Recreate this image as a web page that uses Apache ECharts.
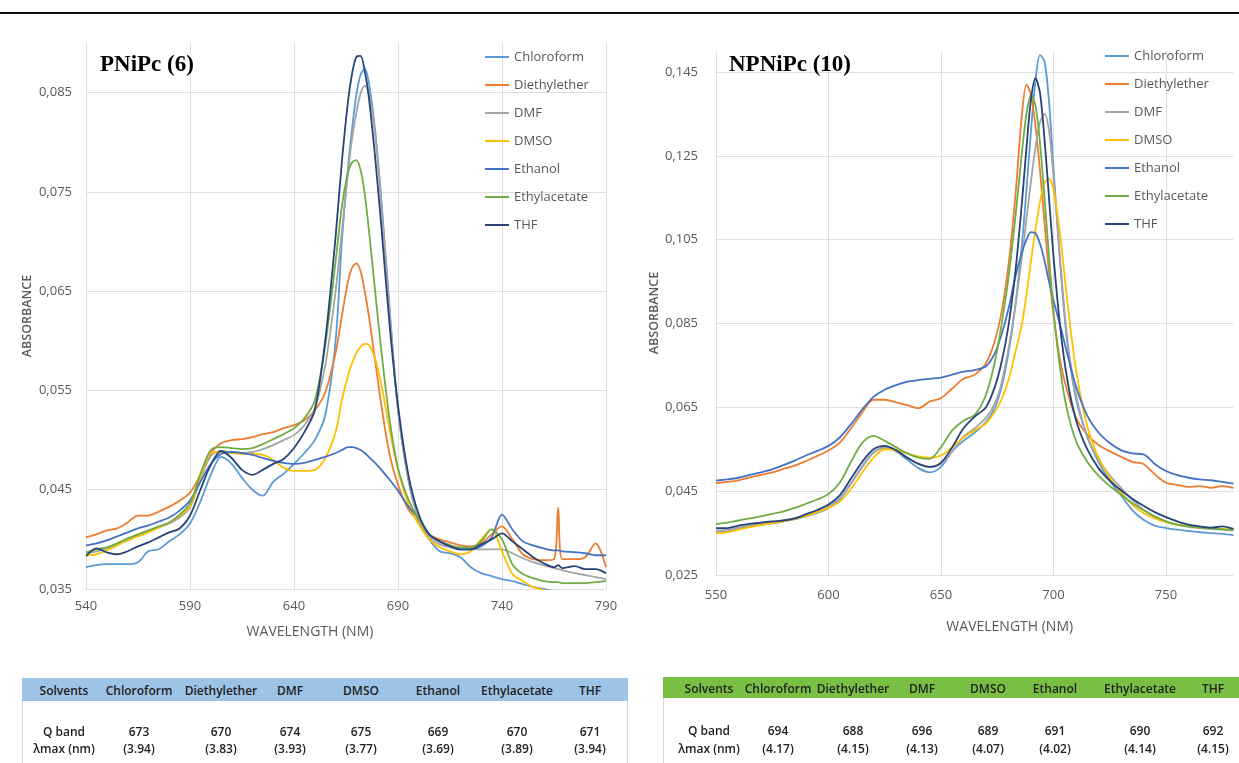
<!DOCTYPE html>
<html><head><meta charset="utf-8">
<script src="https://cdn.jsdelivr.net/npm/echarts@6/dist/echarts.min.js"></script>
<style>
html,body{margin:0;padding:0;background:#fff;}
#wrap{position:relative;width:1239px;height:763px;overflow:hidden;background:#fff;}
#chart{position:absolute;left:0;top:0;width:1239px;height:763px;}
#topline{position:absolute;left:0;top:12px;width:1239px;height:2px;background:#111;}
.band{position:absolute;}
.box{position:absolute;border:1px solid #d6d6d6;border-top:none;}
.cell{position:absolute;transform:translate(-50%,-50%);white-space:nowrap;font-family:'Open Sans',sans-serif;font-size:12px;font-weight:600;color:#222;}
</style></head>
<body>
<div id="wrap">
  <div id="chart"></div>
  <div id="topline"></div>
  <div id="tables"></div>
</div>
<script>
// ---------------- DATA ----------------
const SERIES_NAMES = ['Chloroform','Diethylether','DMF','DMSO','Ethanol','Ethylacetate','THF'];

// Left chart: PNiPc (6)
const L_WL = [540,545,550,555,560,565,570,575,580,585,590,595,600,605,610,615,620,625,630,635,640,645,650,655,660,
  663,666,668,670,672,674,676,679,682,686,690,
  695,700,705,710,715,720,725,730,735,740,745,750,755,760,765,767,769,775,780,785,790];
const L_CHLOROFORM = [.0372,.0374,.0375,.0375,.0375,.0377,.0388,.0390,.0398,.0405,.0416,.0438,.0465,.0483,.0476,.0462,.0450,.0444,.0458,.0466,.0476,.0487,.0500,.0525,.0600,
  .0700,.0775,.0815,.0848,.0868,.0874,.0860,.0812,.0742,.0632,.0530,
  .0460,.0420,.0400,.0388,.0386,.0382,.0372,.0366,.0363,.0360,.0358,.0355,.0352,.0350,.0348,.0347,.0347,.0345,.0344,.0343,.0342];
const L_DIETHYLETHER = [.0402,.0405,.0409,.0411,.0417,.0424,.0424,.0428,.0433,.0439,.0447,.0465,.0487,.0497,.0500,.0501,.0503,.0506,.0508,.0512,.0515,.0520,.0530,.0548,.0588,
  .0625,.0660,.0674,.0678,.0670,.0650,.0625,.0580,.0535,.0485,.0455,
  .0430,.0418,.0405,.0400,.0397,.0394,.0393,.0396,.0405,.0413,.0400,.0385,.0380,.0379,.0380,.0432,.0380,.0380,.0382,.0396,.0372];
const L_DMF = [.0386,.0388,.0391,.0395,.0399,.0404,.0408,.0412,.0416,.0422,.0432,.0460,.0484,.0489,.0488,.0487,.0488,.0491,.0495,.0500,.0505,.0515,.0532,.0575,.0650,
  .0710,.0770,.0805,.0830,.0849,.0857,.0850,.0808,.0738,.0628,.0530,
  .0460,.0420,.0402,.0395,.0392,.0390,.0390,.0390,.0390,.0390,.0386,.0381,.0377,.0374,.0371,.0370,.0369,.0366,.0364,.0362,.0360];
const L_DMSO = [.0384,.0385,.0389,.0394,.0399,.0403,.0407,.0412,.0417,.0424,.0433,.0462,.0487,.0488,.0487,.0486,.0486,.0485,.0480,.0472,.0469,.0469,.0470,.0482,.0508,
  .0540,.0565,.0578,.0588,.0594,.0597,.0596,.0582,.0556,.0510,.0470,
  .0435,.0415,.0400,.0392,.0388,.0385,.0388,.0400,.0410,.0388,.0365,.0358,.0352,.0349,.0347,.0346,.0346,.0345,.0345,.0346,.0347];
const L_ETHANOL = [.0394,.0396,.0399,.0403,.0407,.0411,.0414,.0418,.0422,.0429,.0439,.0458,.0476,.0486,.0488,.0487,.0485,.0482,.0479,.0477,.0476,.0477,.0480,.0483,.0487,
  .0490,.0493,.0493,.0492,.0490,.0487,.0483,.0477,.0470,.0460,.0449,
  .0433,.0421,.0405,.0398,.0394,.0390,.0390,.0393,.0402,.0425,.0410,.0398,.0394,.0391,.0389,.0389,.0388,.0387,.0386,.0384,.0384];
const L_ETHYLACETATE = [.0387,.0390,.0392,.0396,.0401,.0405,.0409,.0413,.0417,.0425,.0436,.0466,.0490,.0493,.0492,.0491,.0492,.0496,.0501,.0506,.0512,.0522,.0540,.0595,.0680,
  .0735,.0770,.0780,.0782,.0772,.0748,.0712,.0650,.0590,.0520,.0472,
  .0440,.0420,.0405,.0398,.0394,.0392,.0392,.0398,.0410,.0400,.0375,.0365,.0361,.0358,.0357,.0357,.0356,.0356,.0356,.0357,.0358];
const L_THF = [.0383,.0391,.0387,.0385,.0388,.0393,.0397,.0402,.0407,.0411,.0424,.0450,.0475,.0489,.0482,.0470,.0465,.0470,.0476,.0481,.0492,.0508,.0530,.0600,.0705,
  .0780,.0842,.0870,.0886,.0887,.0872,.0845,.0785,.0715,.0615,.0535,
  .0465,.0425,.0405,.0398,.0393,.0390,.0390,.0395,.0400,.0406,.0398,.0390,.0382,.0376,.0372,.0374,.0371,.0373,.0370,.0370,.0366];

// Right chart: NPNiPc (10)
const R_WL = [550,555,560,565,570,575,580,585,590,595,600,605,610,615,620,625,630,635,640,645,650,655,660,665,670,
  674,677,680,683,686,688,690,692,694,696,698,700,703,706,
  710,715,720,725,730,735,740,745,750,755,760,765,770,775,780];
const R_CHLOROFORM = [.0352,.0354,.0360,.0365,.0370,.0373,.0378,.0383,.0390,.0398,.0410,.0430,.0468,.0508,.0542,.0555,.0545,.0525,.0505,.0495,.0508,.0545,.0570,.0590,.0615,
  .0650,.0700,.0780,.0890,.1040,.1170,.1310,.1430,.1490,.1475,.1380,.1220,.0990,.0810,
  .0670,.0580,.0520,.0475,.0440,.0405,.0382,.0368,.0362,.0358,.0355,.0352,.0350,.0348,.0345];
const R_DIETHYLETHER = [.0469,.0472,.0476,.0483,.0489,.0495,.0503,.0511,.0522,.0534,.0547,.0566,.0600,.0638,.0668,.0668,.0662,.0655,.0648,.0664,.0672,.0695,.0718,.0728,.0755,
  .0810,.0880,.0990,.1150,.1350,.1420,.1395,.1320,.1215,.1090,.0970,.0870,.0760,.0690,
  .0625,.0585,.0560,.0545,.0532,.0520,.0515,.0490,.0470,.0465,.0460,.0462,.0458,.0462,.0458];
const R_DMF = [.0356,.0358,.0363,.0368,.0372,.0376,.0380,.0385,.0393,.0402,.0413,.0432,.0468,.0510,.0542,.0553,.0545,.0530,.0515,.0508,.0515,.0545,.0580,.0600,.0625,
  .0660,.0710,.0790,.0890,.1010,.1100,.1190,.1270,.1330,.1350,.1310,.1200,.1000,.0820,
  .0680,.0580,.0525,.0488,.0458,.0430,.0405,.0388,.0377,.0370,.0365,.0362,.0360,.0358,.0356];
const R_DMSO = [.0350,.0352,.0358,.0364,.0369,.0374,.0378,.0384,.0391,.0400,.0410,.0425,.0455,.0495,.0530,.0550,.0548,.0540,.0533,.0530,.0535,.0555,.0578,.0595,.0612,
  .0640,.0670,.0715,.0780,.0850,.0920,.1000,.1075,.1140,.1185,.1195,.1170,.1060,.0910,
  .0740,.0605,.0530,.0482,.0447,.0418,.0398,.0385,.0376,.0370,.0367,.0364,.0362,.0360,.0358];
const R_ETHANOL = [.0475,.0478,.0482,.0489,.0495,.0502,.0512,.0523,.0535,.0546,.0558,.0578,.0610,.0645,.0675,.0692,.0703,.0711,.0715,.0718,.0721,.0728,.0735,.0739,.0748,
  .0780,.0825,.0885,.0960,.1020,.1050,.1068,.1065,.1040,.1000,.0950,.0905,.0845,.0780,
  .0700,.0630,.0590,.0565,.0548,.0540,.0538,.0515,.0498,.0488,.0482,.0478,.0476,.0472,.0468];
const R_ETHYLACETATE = [.0372,.0375,.0380,.0385,.0390,.0396,.0402,.0410,.0420,.0430,.0443,.0470,.0520,.0565,.0582,.0570,.0555,.0540,.0530,.0527,.0555,.0595,.0618,.0632,.0680,
  .0760,.0850,.0960,.1100,.1260,.1350,.1395,.1370,.1280,.1150,.1010,.0880,.0740,.0645,
  .0570,.0520,.0487,.0462,.0442,.0422,.0405,.0390,.0378,.0370,.0366,.0363,.0361,.0359,.0358];
const R_THF = [.0362,.0362,.0368,.0372,.0375,.0378,.0380,.0385,.0395,.0405,.0418,.0440,.0480,.0520,.0550,.0558,.0548,.0530,.0515,.0508,.0518,.0555,.0600,.0628,.0650,
  .0700,.0760,.0845,.0970,.1140,.1270,.1385,.1435,.1400,.1290,.1150,.1010,.0840,.0720,
  .0620,.0550,.0505,.0475,.0452,.0432,.0415,.0400,.0388,.0378,.0370,.0366,.0363,.0366,.0360];

// Tables
const TABLE_HEAD = ['Solvents','Chloroform','Diethylether','DMF','DMSO','Ethanol','Ethylacetate','THF'];
const ROW1_LABEL = 'Q band';
const ROW2_LABEL = '\u03bbmax (nm)';
const L_QBAND = [673,670,674,675,669,670,671];
const L_LOGE  = ['3.94','3.83','3.93','3.77','3.69','3.89','3.94'];
const R_QBAND = [694,688,696,689,691,690,692];
const R_LOGE  = ['4.17','4.15','4.13','4.07','4.02','4.14','4.15'];

// ---------------- STYLE / LAYOUT ----------------
const COLORS = {Chloroform:'#5B9BD5',Diethylether:'#ED7D31',DMF:'#A5A5A5',DMSO:'#FFC000',Ethanol:'#4472C4',Ethylacetate:'#70AD47',THF:'#264478'};
const GRIDC = '#dedede', T = 'rgba(0,0,0,0)';
const LBL = '#595959';
const FONT = "'Open Sans', sans-serif";

const L_VALUES = [L_CHLOROFORM,L_DIETHYLETHER,L_DMF,L_DMSO,L_ETHANOL,L_ETHYLACETATE,L_THF];
const R_VALUES = [R_CHLOROFORM,R_DIETHYLETHER,R_DMF,R_DMSO,R_ETHANOL,R_ETHYLACETATE,R_THF];

function pairs(wl, vals){ return wl.map((w,i)=>[w, vals[i]]); }
function comma(v){ return v.toFixed(3).replace('.', ','); }

const series = [];
SERIES_NAMES.forEach((n,i)=>{
  series.push({type:'line', name:n, xAxisIndex:0, yAxisIndex:0, data:pairs(L_WL, L_VALUES[i]),
    symbol:'none', smooth:0.3, lineStyle:{width:1.8, color:COLORS[n]}, itemStyle:{color:COLORS[n]}, silent:true});
});
SERIES_NAMES.forEach((n,i)=>{
  series.push({type:'line', name:n, xAxisIndex:1, yAxisIndex:1, data:pairs(R_WL, R_VALUES[i]),
    symbol:'none', smooth:0.3, lineStyle:{width:1.8, color:COLORS[n]}, itemStyle:{color:COLORS[n]}, silent:true});
});

function xAxisDef(gi, min, max, namePad, margin, nameGap){
  return {type:'value', gridIndex:gi, min:min, max:max, interval:10,
    axisLine:{show:false}, axisTick:{show:false},
    splitLine:{show:true, lineStyle:{color:[GRIDC,T,T,T,T], width:1}},
    axisLabel:{color:LBL, fontSize:13, fontFamily:FONT, margin:margin,
      formatter:(v)=> (Math.round(v-min)%50===0 ? String(Math.round(v)) : '')},
    name:'WAVELENGTH (NM)', nameLocation:'middle', nameGap:nameGap,
    nameTextStyle:{color:LBL, fontSize:14, fontFamily:FONT, padding:namePad}};
}
function yAxisDef(gi, min, max, every, gap, margin){
  const cols = [GRIDC]; for(let k=1;k<every;k++) cols.push(T);
  return {type:'value', gridIndex:gi, min:min, max:max, interval:0.005,
    axisLine:{show:false}, axisTick:{show:false},
    splitLine:{show:true, lineStyle:{color:cols, width:1}},
    axisLabel:{color:LBL, fontSize:13, fontFamily:FONT, margin:margin,
      formatter:(v)=>{ const k=Math.round((v-min)/0.005); return (k%every===0 && v < max-1e-9) ? comma(v) : ''; }},
    name:'ABSORBANCE', nameLocation:'middle', nameGap:gap,
    nameTextStyle:{color:LBL, fontSize:12.5, fontWeight:600, fontFamily:FONT}};
}
function legendDef(left, top){
  return {orient:'vertical', left:left, top:top, icon:'rect', itemWidth:24, itemHeight:2, itemGap:14,
    data:SERIES_NAMES, selectedMode:false,
    textStyle:{color:LBL, fontSize:13, fontFamily:FONT, lineHeight:14, height:14}};
}

const option = {
  animation:false,
  backgroundColor:'#ffffff',
  title:[
    {text:'PNiPc (6)', left:95, top:49, textStyle:{fontFamily:"'Liberation Serif', serif", fontWeight:'bold', fontSize:23, color:'#000'}},
    {text:'NPNiPc (10)', left:724, top:49, textStyle:{fontFamily:"'Liberation Serif', serif", fontWeight:'bold', fontSize:23, color:'#000'}}
  ],
  legend:[ legendDef(480, 45), legendDef(1100, 44) ],
  grid:[
    {left:86, top:43, width:520, height:546},
    {left:716, top:51, width:517.5, height:524}
  ],
  xAxis:[ xAxisDef(0,540,790,[0,72,0,0],11,36), xAxisDef(1,550,780,[0,0,0,70],14,45) ],
  yAxis:[ yAxisDef(0,0.035,0.09,2,52,14), yAxisDef(1,0.025,0.15,4,52,18) ],
  series:series
};

const chart = echarts.init(document.getElementById('chart'), null, {renderer:'canvas'});
chart.setOption(option);

// ---------------- TABLES ----------------
const L_COLS = [64,139,221,290,361,438,517,590];
const R_COLS = [709,778,853,922,988,1055,1140,1213];
const tables = document.getElementById('tables');
function add(html){ tables.insertAdjacentHTML('beforeend', html); }
function buildTable(cols, band, bandColor, headY, r1Y, r2Y, qband, loge){
  add(`<div class="box" style="left:${band[0]}px;top:${band[1]}px;width:${band[2]-band[0]-2}px;height:${763-band[1]}px;"></div>`);
  add(`<div class="band" style="left:${band[0]}px;top:${band[1]}px;width:${band[2]-band[0]}px;height:${band[3]-band[1]}px;background:${bandColor};"></div>`);
  TABLE_HEAD.forEach((h,i)=> add(`<div class="cell" style="left:${cols[i]}px;top:${headY}px;">${h}</div>`));
  add(`<div class="cell" style="left:${cols[0]}px;top:${r1Y}px;">${ROW1_LABEL}</div>`);
  add(`<div class="cell" style="left:${cols[0]}px;top:${r2Y}px;">${ROW2_LABEL}</div>`);
  qband.forEach((q,i)=> add(`<div class="cell" style="left:${cols[i+1]}px;top:${r1Y}px;">${q}</div>`));
  loge.forEach((e,i)=> add(`<div class="cell" style="left:${cols[i+1]}px;top:${r2Y}px;">(${e})</div>`));
}
buildTable(L_COLS, [22,678,628,701], '#9DC3E6', 690, 731, 748, L_QBAND, L_LOGE);
buildTable(R_COLS, [663,677,1241,698], '#79BF43', 688, 730, 748, R_QBAND, R_LOGE);
</script>
</body></html>
